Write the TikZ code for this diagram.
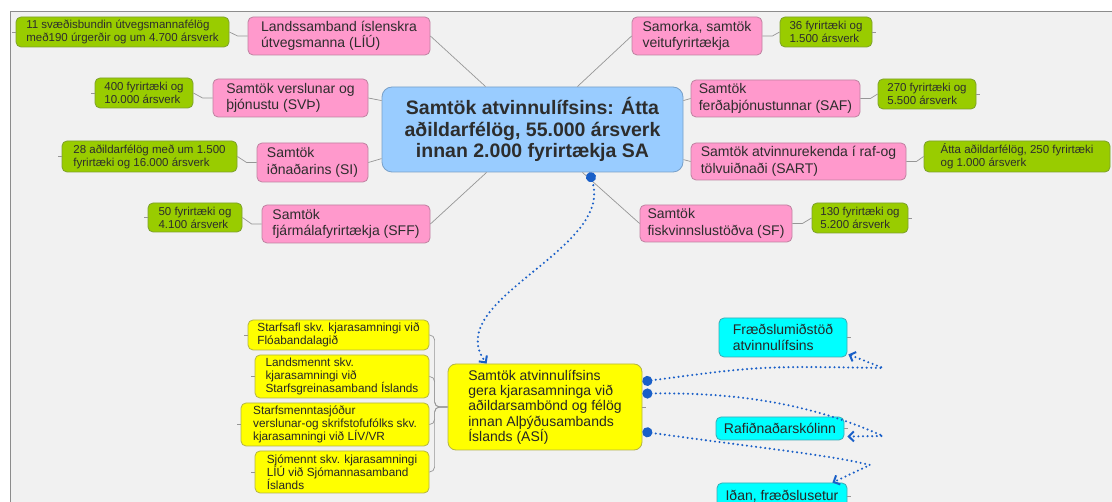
\documentclass[tikz,border=0pt]{standalone}
\usepackage{fontspec}
\setmainfont{Liberation Sans}
\usetikzlibrary{arrows.meta,calc}
\definecolor{bgcol}{RGB}{241,241,241}
\definecolor{framecol}{RGB}{140,140,140}
\definecolor{pinkfill}{RGB}{255,153,204}
\definecolor{pinkdraw}{RGB}{190,130,160}
\definecolor{greenfill}{RGB}{153,204,0}
\definecolor{greendraw}{RGB}{125,160,45}
\definecolor{bluefill}{RGB}{153,204,255}
\definecolor{bluedraw}{RGB}{120,160,200}
\definecolor{yellowfill}{RGB}{255,255,0}
\definecolor{yellowdraw}{RGB}{180,180,70}
\definecolor{cyanfill}{RGB}{0,255,255}
\definecolor{cyandraw}{RGB}{60,170,180}
\definecolor{linkgray}{RGB}{150,150,150}
\definecolor{dotblue}{RGB}{25,95,200}
\definecolor{txt}{RGB}{45,45,45}
\begin{document}
\begin{tikzpicture}[x=1pt,y=-1pt,
  box/.style={rectangle, rounded corners=5pt, align=left, inner sep=0pt, text=txt, line width=0.8pt},
  pinkbox/.style={box, fill=pinkfill, draw=pinkdraw, font=\fontsize{14}{16.5}\selectfont},
  greenbox/.style={box, fill=greenfill, draw=greendraw, font=\fontsize{11.5}{13}\selectfont},
  centerbox/.style={box, rounded corners=10pt, align=center, fill=bluefill, draw=bluedraw, font=\fontsize{19.5}{21.5}\selectfont\bfseries},
  yellowbox/.style={box, fill=yellowfill, draw=yellowdraw, text=black!85, font=\fontsize{11.8}{13.2}\selectfont},
  asibox/.style={box, rounded corners=8pt, fill=yellowfill, draw=yellowdraw, text=black!85, font=\fontsize{14}{15.3}\selectfont},
  cyanbox/.style={box, fill=cyanfill, draw=cyandraw, text=black!85, font=\fontsize{14}{16}\selectfont},
  link/.style={draw=linkgray, line width=0.7pt},
  stub/.style={draw=linkgray, line width=0.6pt},
  dotlink/.style={draw=dotblue, line width=2.3pt, line cap=round, dash pattern=on 0pt off 4.6pt,
    arrows={Circle[length=10pt,width=10pt,fill=dotblue]-Straight Barb[length=5pt,width=10pt,line width=2pt]}}
]
\useasboundingbox (0,0) rectangle (1112,502);
\clip (0,0) rectangle (1112,502);
\fill[white] (0,0) rectangle (1112,502);
\fill[bgcol] (10,12) rectangle (1112,502);
\draw[framecol, line width=1pt] (10,502) -- (10,12) -- (1112,12);

% central
\node[centerbox, minimum width=301pt, minimum height=85pt] (c) at (532.5,129.5)
  {Samtök atvinnulífsins: Átta\\aðildarfélög, 55.000 ársverk\\innan 2.000 fyrirtækja SA};

% pink nodes
\node[pinkbox, minimum width=182pt, minimum height=38pt] (p1) at (339,36) {Landssamband íslenskra\\útvegsmanna (LÍÚ)};
\node[pinkbox, minimum width=155pt, minimum height=38pt] (p2) at (290.5,98) {Samtök verslunar og\\þjónustu (SVÞ)};
\node[pinkbox, minimum width=111pt, minimum height=39pt] (p3) at (312.5,162.5) {Samtök\\iðnaðarins (SI)};
\node[pinkbox, minimum width=168pt, minimum height=38pt] (p4) at (346,224) {Samtök\\fjármálafyrirtækja (SFF)};
\node[pinkbox, minimum width=130pt, minimum height=38pt] (p5) at (697,36) {Samorka, samtök\\veitufyrirtækja};
\node[pinkbox, minimum width=169pt, minimum height=37pt] (p6) at (775.5,98.5) {Samtök\\ferðaþjónustunnar (SAF)};
\node[pinkbox, minimum width=215pt, minimum height=37pt] (p7) at (798.5,161.5) {Samtök atvinnurekenda í raf-og\\tölvuiðnaði (SART)};
\node[pinkbox, minimum width=152pt, minimum height=37pt] (p8) at (716,223.5) {Samtök\\fiskvinnslustöðva (SF)};

% green nodes
\node[greenbox, minimum width=213pt, minimum height=30pt] (g1) at (122.5,32) {11 svæðisbundin útvegsmannafélög\\með190 úrgerðir og um 4.700 ársverk};
\node[greenbox, minimum width=98pt, minimum height=30pt] (g2) at (144,93) {400 fyrirtæki og\\10.000 ársverk};
\node[greenbox, minimum width=175pt, minimum height=31pt] (g3) at (149.5,156.5) {28 aðildarfélög með um 1.500\\fyrirtæki og 16.000 ársverk};
\node[greenbox, minimum width=94pt, minimum height=29pt] (g4) at (195,217.5) {50 fyrirtæki og\\4.100 ársverk};
\node[greenbox, minimum width=92pt, minimum height=30pt] (g5) at (826,32) {36 fyrirtæki og\\1.500 ársverk};
\node[greenbox, minimum width=98pt, minimum height=30pt] (g6) at (927,94) {270 fyrirtæki og\\5.500 ársverk};
\node[greenbox, minimum width=186pt, minimum height=31pt] (g7) at (1017,156.5) {Átta aðildarfélög, 250 fyrirtæki\\og 1.000 ársverk};
\node[greenbox, minimum width=96pt, minimum height=30pt] (g8) at (860,218) {130 fyrirtæki og\\5.200 ársverk};

% connectors central - pink
\draw[link] (p1.east) -- ([xshift=104pt]c.north west);
\draw[link] (p2.east) -- ([yshift=-14pt]c.north west);
\draw[link] (p3.east) -- ([yshift=-72pt]c.north west);
\draw[link] (p4.east) -- ([xshift=105pt]c.south west);
\draw[link] (p5.west) -- ([xshift=-106pt]c.north east);
\draw[link] ([yshift=-14pt]c.north east) -- (p6.west);
\draw[link] ([yshift=-73pt]c.north east) -- (p7.west);
\draw[link] ([xshift=-101pt]c.south east) -- (p8.west);

% connectors pink - green
\draw[link] (p1.west) -- ++(-10,0) -- (g1.east);
\draw[link] (p2.west) -- ++(-10,0) -- (g2.east);
\draw[link] (p3.west) -- ++(-10,0) -- (g3.east);
\draw[link] (p4.west) -- ++(-10,0) -- (g4.east);
\draw[link] (p5.east) -- ++(10,0) -- (g5.west);
\draw[link] (p6.east) -- ++(10,0) -- (g6.west);
\draw[link] (p7.east) -- ++(10,0) -- (g7.west);
\draw[link] (p8.east) -- ++(10,0) -- (g8.west);
\foreach \g in {g1,g2,g3,g4} \draw[stub] (\g.west) -- ++(-4,0);
\foreach \g in {g5,g6,g8} \draw[stub] (\g.east) -- ++(4,0);

% ASI and yellow
\node[asibox, inner xsep=17pt, minimum width=194pt, minimum height=86pt] (a) at (545,407)
  {Samtök atvinnulífsins\\gera kjarasamninga við\\aðildarsambönd og félög\\innan Alþýðusambands\\Íslands (ASÍ)};
\node[yellowbox, minimum width=181pt, minimum height=30pt] (y1) at (338.5,335) {Starfsafl skv. kjarasamningi við\\Flóabandalagið};
\node[yellowbox, minimum width=174pt, minimum height=43pt] (y2) at (342,376.5) {Landsmennt skv.\\kjarasamningi við\\Starfsgreinasamband Íslands};
\node[yellowbox, minimum width=188pt, minimum height=43pt] (y3) at (335,424.5) {Starfsmenntasjóður\\verslunar-og skrifstofufólks skv.\\kjarasamningi við LÍV/VR};
\node[yellowbox, minimum width=174pt, minimum height=42pt] (y4) at (342,472) {Sjómennt skv. kjarasamningi\\LÍÚ við Sjómannasamband\\Íslands};
\foreach \y in {y1,y2,y3,y4} {
  \draw[link, rounded corners=5pt] (a.west) -- ++(-13,0) |- (\y.east);
  \draw[stub] (\y.west) -- ++(-4,0);
}
\draw[stub] (a.east) -- ++(4,0);

% cyan
\node[cyanbox, minimum width=128pt, minimum height=39pt] (cy1) at (783,337.5) {Fræðslumiðstöð\\atvinnulífsins};
\node[cyanbox, minimum width=128pt, minimum height=23pt] (cy2) at (780,428.5) {Rafiðnaðarskólinn};
\node[cyanbox, minimum width=130pt, minimum height=26pt] (cy3) at (782,496) {Iðan, fræðslusetur};
\foreach \q in {cy1,cy2,cy3} \draw[stub] (\q.east) -- ++(4,0);

% dotted relations
\draw[dotlink] ([xshift=-94pt]c.south east) .. controls (615,250) and (440,300) .. ([xshift=39pt]a.north west);
\draw[dotlink] ([yshift=-18pt]a.north east) .. controls (760,366) .. (883,368) -- ([xshift=1pt,yshift=3pt]cy1.south east);
\draw[dotlink] ([yshift=-30pt]a.north east) .. controls (750,392) and (820,408) .. (883,436) -- ([xshift=3pt,yshift=-8pt]cy2.east);
\draw[dotlink] ([yshift=-68pt]a.north east) .. controls (760,448) and (830,455) .. (870,465) -- ([xshift=-15pt]cy3.north east);
\end{tikzpicture}
\end{document}
